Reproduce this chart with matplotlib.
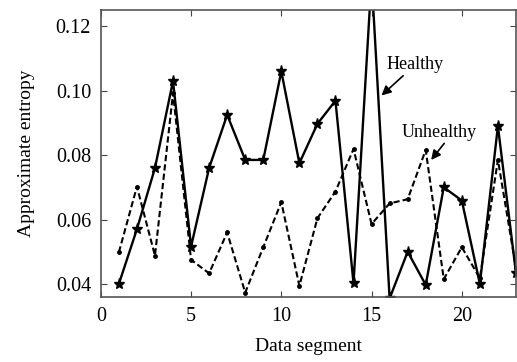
import matplotlib
matplotlib.use("Agg")
import matplotlib.pyplot as plt
import numpy as np

plt.rcParams['font.family'] = ['Liberation Serif', 'DejaVu Serif']

# data segments 1..23
segments = list(range(1, 24))
healthy = [0.040, 0.057, 0.076, 0.103, 0.0516, 0.076, 0.0925, 0.0785, 0.0785, 0.106,
           0.0775, 0.0897, 0.0969, 0.0402, 0.135, 0.0355, 0.050, 0.0397, 0.070, 0.0659,
           0.040, 0.089, 0.0434]
unhealthy = [0.0498, 0.0702, 0.0488, 0.0992, 0.0475, 0.0433, 0.056, 0.0373, 0.0514, 0.0654,
             0.0394, 0.0604, 0.0687, 0.0819, 0.0586, 0.065, 0.0663, 0.0816, 0.0415, 0.0514,
             0.0418, 0.0785, 0.045]

xticks = [0, 5, 10, 15, 20]
yticks = [0.04, 0.06, 0.08, 0.10, 0.12]
ytick_labels = ['0.04', '0.06', '0.08', '0.10', '0.12']

fig = plt.figure(figsize=(5.17, 3.62), dpi=100)
ax = fig.add_axes([0.195, 0.180, 0.803, 0.792])

ax.plot(segments, healthy, color='black', lw=1.7, ls='-', marker='*',
        markersize=8, markeredgewidth=1.0)
ax.plot(segments, unhealthy, color='black', lw=1.5, ls=(0, (3, 1.5)), marker='o',
        markersize=2.5)

ax.set_xlim(0, 23)
ax.set_ylim(0.036, 0.125)
ax.set_xticks(xticks)
ax.set_yticks(yticks)
ax.set_yticklabels(ytick_labels)
ax.tick_params(direction='in', top=True, right=True, labelsize=14.5, length=4,
               color='#444444', pad=7)
for s in ax.spines.values():
    s.set_color('#555555')
    s.set_linewidth(1.2)

ax.set_xlabel('Data segment', fontsize=14, labelpad=9)
ax.set_ylabel('Approximate entropy', fontsize=14, labelpad=15)

ax.annotate('Healthy', xy=(15.55, 0.0985), xytext=(15.85, 0.1055), fontsize=13,
            arrowprops=dict(arrowstyle='-|>', color='black', lw=1.2, mutation_scale=14,
                            shrinkA=0, shrinkB=0),
            ha='left', va='bottom')
ax.annotate('Unhealthy', xy=(18.3, 0.0785), xytext=(16.65, 0.0845), fontsize=13,
            arrowprops=dict(arrowstyle='-|>', color='black', lw=1.2, mutation_scale=14,
                            shrinkA=0, shrinkB=0, relpos=(0.6, 0.0)),
            ha='left', va='bottom')

fig.savefig('out.png', dpi=100)
